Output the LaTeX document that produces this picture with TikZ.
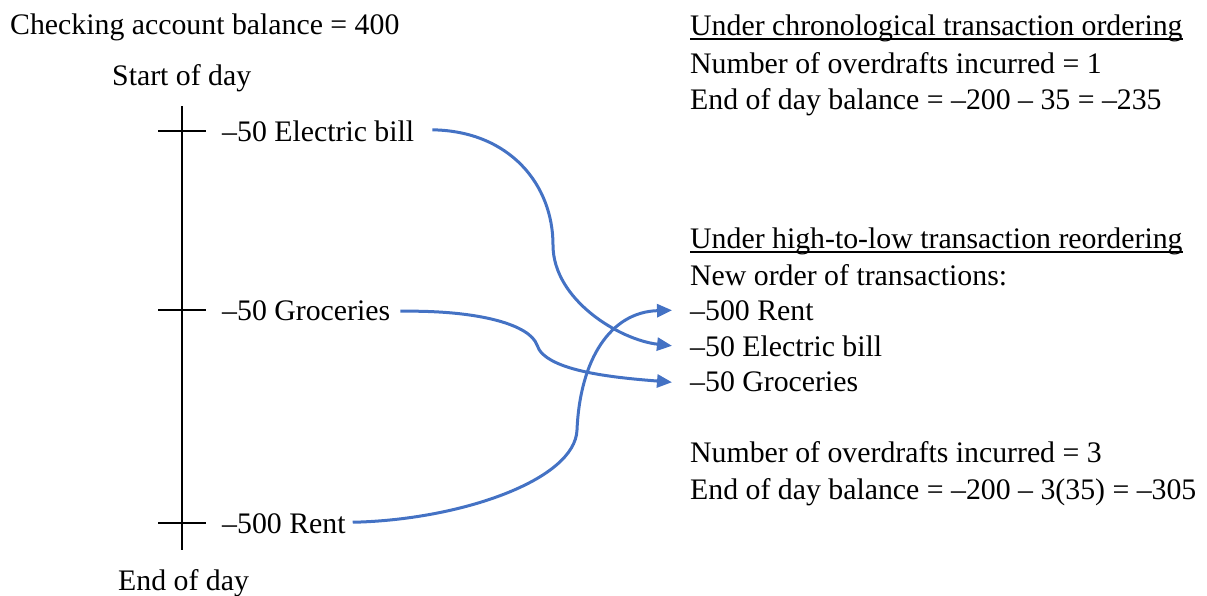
\documentclass[tikz,border=0pt]{standalone}
\usepackage{fontspec}
\setmainfont{Liberation Serif}
\usetikzlibrary{arrows.meta}

\tikzset{
    txt/.style={anchor=base west, inner sep=0pt, font=\fontsize{29.8}{36}\selectfont},
    move/.style={draw=moveblue, line width=3pt, -{Triangle[length=15pt,width=13pt]}},
    rule/.style={line width=1.6pt}
}
\definecolor{moveblue}{RGB}{68,114,196}

\begin{document}
\begin{tikzpicture}[x=1pt, y=-1pt]
        \useasboundingbox (0,0) rectangle (1207,595);
        % time line
        \node [txt] (balance) at (10,34) {Checking account balance = 400};
        \node [txt] (start) at (112,85) {Start of day};
        \node [txt] (finish) at (118,590) {End of day};
        \draw [line width=2.8pt] (182,106) -- (182,550);
        \foreach \y in {131,310,523}
            \draw [line width=2.8pt] (158,\y) -- (206,\y);
        \node [txt] (elec) at (222,141) {–50 Electric bill};
        \node [txt] (groc) at (222,320) {–50 Groceries};
        \node [txt] (rent) at (222,533) {–500 Rent};
        % chronological
        \node [txt] (chrono) at (690,35) {Under chronological transaction ordering};
        \draw [rule] ([yshift=-4pt]chrono.base west) -- ([yshift=-4pt]chrono.base east);
        \node [txt] (chronoa) at (690,73) {Number of overdrafts incurred = 1};
        \node [txt] (chronob) at (690,109) {End of day balance = –200 – 35 = –235};
        % high-to-low
        \node [txt] (hilo) at (690,248) {Under high-to-low transaction reordering};
        \draw [rule] ([yshift=-4pt]hilo.base west) -- ([yshift=-4pt]hilo.base east);
        \node [txt] (neworder) at (690,285) {New order of transactions:};
        \node [txt] (newrent) at (690,320) {–500 Rent};
        \node [txt] (newelec) at (690,356) {–50 Electric bill};
        \node [txt] (newgroc) at (690,391) {–50 Groceries};
        \node [txt] (hiloa) at (690,462) {Number of overdrafts incurred = 3};
        \node [txt] (hilob) at (690,499) {End of day balance = –200 – 3(35) = –305};
        % arrows
        \draw [move] ([xshift=18pt,yshift=1pt]elec.east) .. controls (510,131) and (553,185) .. (553,245)
            .. controls (553,300) and (620,340) .. ([xshift=-18pt]newelec.west);
        \draw [move] ([xshift=10pt,yshift=-1pt]groc.east) .. controls (480,310) and (530,325) .. (537,345)
            .. controls (545,372) and (620,378) .. ([xshift=-18pt,yshift=-1pt]newgroc.west);
        \draw [move] ([xshift=7pt,yshift=1pt]rent.east) .. controls (460,520) and (575,480) .. (577,430)
            .. controls (580,360) and (610,312) .. ([xshift=-18pt]newrent.west);
    \end{tikzpicture}
\end{document}
